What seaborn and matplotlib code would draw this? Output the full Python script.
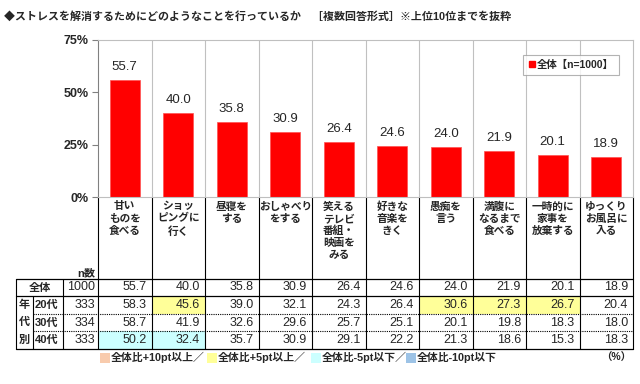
import numpy as np
import seaborn as sns
from matplotlib import pyplot as plt
from matplotlib.lines import Line2D

# chart data
categories = ['甘い\nものを\n食べる', 'ショッ\nピングに\n行く', '昼寝を\nする', 'おしゃべり\nをする',
              '笑える\nテレビ\n番組・\n映画を\nみる', '好きな\n音楽を\nきく', '愚痴を\n言う',
              '満腹に\nなるまで\n食べる', '一時的に\n家事を\n放棄する', 'ゆっくり\nお風呂に\n入る']
total = [55.7, 40.0, 35.8, 30.9, 26.4, 24.6, 24.0, 21.9, 20.1, 18.9]
age20 = [58.3, 45.6, 39.0, 32.1, 24.3, 26.4, 30.6, 27.3, 26.7, 20.4]
age30 = [58.7, 41.9, 32.6, 29.6, 25.7, 25.1, 20.1, 19.8, 18.3, 18.0]
age40 = [50.2, 32.4, 35.7, 30.9, 29.1, 22.2, 21.3, 18.6, 15.3, 18.3]
row_names = ['全体', '20代', '30代', '40代']
row_n = [1000, 333, 334, 333]
yticks = [0, 25, 50, 75]
legend_label = '全体【n=1000】'
title = '◆ストレスを解消するためにどのようなことを行っているか　［複数回答形式］※上位10位までを抜粋'
footer = [('#F8CBAD', '全体比+10pt以上／'), ('#FFFF99', '全体比+5pt以上／'),
          ('#CCFFFF', '全体比-5pt以下／'), ('#9DC3E6', '全体比-10pt以下')]

sns.set_style('white')
plt.rcParams['font.family'] = ['Liberation Sans', 'Noto Sans CJK JP']

W, H = 640, 384
fig = plt.figure(figsize=(W / 100, H / 100), dpi=100)
ax = fig.add_axes([98 / W, 1 - 197 / H, 535 / W, 157 / H])

sns.barplot(x=list(range(len(total))), y=total, color='#FF0000', width=0.56,
            saturation=1, edgecolor='#FF5050', linewidth=0.5, ax=ax)
ax.bar_label(ax.containers[0], fmt='%.1f', padding=5, fontsize=9.5)
ax.set_xlim(-0.5, len(total) - 0.5)
ax.set_ylim(0, 75)
ax.set_yticks(yticks)
ax.set_yticklabels([f'{t}%' for t in yticks], fontsize=9, fontweight='bold')
ax.set_xticks([])
ax.tick_params(axis='y', left=True, length=4, color='#808080', pad=3)
for i in range(len(total) - 1):
    ax.axvline(i + 0.5, color='#C0C0C0', lw=0.8, zorder=0)
for s in ['top', 'right', 'bottom']:
    ax.spines[s].set_color('#BFBFBF')
ax.spines['left'].set_color('#808080')

h = [Line2D([], [], marker='s', color='#FF0000', ls='', markersize=5)]
leg = ax.legend(h, [legend_label], loc='upper right', bbox_to_anchor=(0.983, 0.937),
                handletextpad=0.1, handlelength=0.8, borderpad=0.45, fancybox=False,
                prop={'size': 7.5, 'weight': 'bold'})
leg.get_frame().set_edgecolor('#A0A0A0')
leg.get_frame().set_linewidth(0.8)

# overlay in pixel coordinates for labels and table
ov = fig.add_axes([0, 0, 1, 1], zorder=-1)
ov.set_xlim(0, W)
ov.set_ylim(H, 0)
ov.axis('off')
fig.canvas.draw()
edges = [ax.transData.transform((i - 0.5, 0))[0] for i in range(len(total) + 1)]
centers = [(edges[i] + edges[i + 1]) / 2 for i in range(len(total))]

ov.text(4, 16, title, fontsize=7.9, fontweight='bold', va='center', ha='left')

for c, lab in zip(centers, categories):
    ov.text(c, 201.5, lab, fontsize=7.7, fontweight='bold', ha='center', va='top', linespacing=1.25)

row_y = [279, 296, 314, 331, 349]
for e in edges:
    ov.plot([e, e], [197, row_y[-1]], color='black', lw=0.8)
ov.plot([16, edges[-1]], [row_y[0]] * 2, color='black', lw=0.9)
ov.plot([16, edges[-1]], [row_y[1]] * 2, color='black', lw=0.9)
ov.plot([33, edges[-1]], [row_y[2]] * 2, color='black', lw=0.8, ls=(0, (1, 1)))
ov.plot([33, edges[-1]], [row_y[3]] * 2, color='black', lw=0.8, ls=(0, (1, 1)))
ov.plot([16, edges[-1]], [row_y[4]] * 2, color='black', lw=0.9)
for x in [16, 63]:
    ov.plot([x, x], [row_y[0], row_y[-1]], color='black', lw=0.8)
ov.plot([33, 33], [row_y[1], row_y[-1]], color='black', lw=0.8)
ov.text(95, 273, 'n数', fontsize=8, fontweight='bold', ha='right', va='center')

def cell_color(diff):
    if diff >= 10:
        return footer[0][0]
    if diff >= 5:
        return footer[1][0]
    if diff <= -10:
        return footer[3][0]
    if diff <= -5:
        return footer[2][0]
    return None

rows = [total, age20, age30, age40]
for r, vals in enumerate(rows):
    y0, y1 = row_y[r], row_y[r + 1]
    yc = (y0 + y1) / 2
    if r == 0:
        ov.text(40, yc, row_names[r], fontsize=8, fontweight='bold', ha='center', va='center')
    else:
        ov.text(35, yc, row_names[r], fontsize=8, fontweight='bold', ha='left', va='center')
    ov.text(95, yc, str(row_n[r]), fontsize=9, ha='right', va='center')
    for i, v in enumerate(vals):
        col = cell_color(v - total[i]) if r > 0 else None
        if col:
            ov.fill_between([edges[i], edges[i + 1]], y0, y1, color=col, lw=0)
        ov.text(edges[i + 1] - 5, yc, f'{v:.1f}', fontsize=9, ha='right', va='center')

for ch, yy in zip('年代別', [305, 322, 340]):
    ov.text(24, yy, ch, fontsize=8, fontweight='bold', ha='center', va='center')

fx = [100, 207, 311, 406]
for x, (col, txt) in zip(fx, footer):
    ov.fill_between([x, x + 10], 352.5, 362.5, color=col, lw=0)
    ov.text(x + 11, 357.5, txt, fontsize=7.8, fontweight='bold', ha='left', va='center')
ov.text(631, 357.5, '（%）', fontsize=7.5, fontweight='bold', ha='right', va='center')

fig.savefig('out.png', dpi=100)
